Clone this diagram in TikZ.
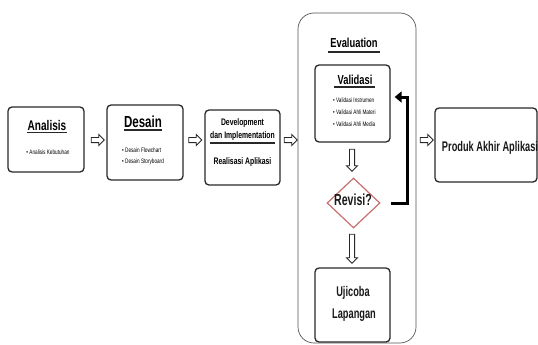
\documentclass[tikz,border=0pt]{standalone}
\usepackage{fontspec}
\usepackage{graphicx}
\setmainfont{Liberation Sans}
\usetikzlibrary{shapes.geometric,shapes.arrows,arrows.meta}
\definecolor{boxline}{RGB}{40,40,40}
\definecolor{revred}{RGB}{200,112,112}
\newcommand{\nrw}[1]{\scalebox{0.72}[1]{#1}}
\newcommand{\nrwb}[1]{\scalebox{0.66}[1]{#1}}
\tikzset{
  stagebox/.style={draw=boxline, line width=1.3pt, rounded corners=4pt, fill=white, inner sep=0pt},
  hollow/.style={single arrow, draw=boxline, line width=0.8pt, fill=white, inner sep=2.2pt,
    single arrow head extend=3pt, minimum height=13pt},
  uline/.style={boxline, line width=1.4pt},
  ttl/.style={inner sep=0pt, font=\fontsize{14}{16}\selectfont\bfseries},
  bul/.style={inner sep=0pt, anchor=west, font=\fontsize{6.5}{7}\selectfont},
  big/.style={inner sep=0pt, text=black!90, font=\fontsize{14}{16}\selectfont\bfseries},
  feedback/.style={line width=3pt, -{Triangle[length=7pt,width=11pt]}}
}
\begin{document}
\begin{tikzpicture}[x=1pt,y=-1pt]
  \useasboundingbox (0,0) rectangle (538,345);

  % stage boxes
  \node[stagebox, minimum width=76pt, minimum height=65pt] (analisis) at (46,139.5) {};
  \node[stagebox, minimum width=76pt, minimum height=75pt] (desain) at (145,142.5) {};
  \node[stagebox, minimum width=75pt, minimum height=75pt] (dev) at (242.5,147.5) {};
  \node[draw=boxline!80, line width=0.7pt, rounded corners=16pt, minimum width=118pt,
        minimum height=330pt] (eval) at (357,178) {};
  \node[stagebox, minimum width=75pt, minimum height=77pt] (validasi) at (352.5,103.5) {};
  \node[diamond, draw=revred, line width=1.2pt, fill=white, inner sep=0pt,
        minimum width=53pt, minimum height=50pt] (revisi) at (353.5,203) {};
  \node[stagebox, minimum width=75pt, minimum height=74pt] (ujicoba) at (352.5,305) {};
  \node[stagebox, minimum width=102pt, minimum height=74pt] (produk) at (486,145) {};

  % Analisis
  \node[ttl] (tanalisis) at (47,125) {\nrw{Analisis}};
  \draw[uline] ([yshift=-2pt]tanalisis.south west) -- ([yshift=-2pt]tanalisis.south east);
  \node[bul, anchor=center] at (48,152) {\nrw{• Analisis Kebutuhan}};

  % Desain
  \node[ttl, font=\fontsize{16}{18}\selectfont\bfseries] (tdesain) at (143,122) {\nrw{Desain}};
  \draw[uline] ([yshift=-2pt]tdesain.south west) -- ([yshift=-2pt]tdesain.south east);
  \node[bul] at (122,150) {\nrw{• Desain Flowchart}};
  \node[bul] at (122,162) {\nrw{• Desain Storyboard}};

  % Development
  \node[ttl, font=\fontsize{9.5}{10}\selectfont\bfseries] at (242.5,123) {\nrw{Development}};
  \node[ttl, font=\fontsize{9.5}{10}\selectfont\bfseries] (tdev) at (242.5,136) {\nrw{dan Implementation}};
  \draw[uline] ([yshift=-2.5pt]tdev.south west) -- ([yshift=-2.5pt]tdev.south east);
  \node[ttl, font=\fontsize{9.5}{10}\selectfont\bfseries] at (242.5,162) {\nrw{Realisasi Aplikasi}};

  % Evaluation
  \node[ttl, font=\fontsize{13}{15}\selectfont\bfseries] (teval) at (354,43) {\nrw{Evaluation}};
  \draw[uline] ([xshift=-2pt,yshift=-4pt]teval.south west) -- ([xshift=2pt,yshift=-4pt]teval.south east);
  \node[ttl, font=\fontsize{13}{15}\selectfont\bfseries] (tvalidasi) at (355,80) {\nrw{Validasi}};
  \draw[uline] ([xshift=-3pt,yshift=-2pt]tvalidasi.south west) -- ([xshift=2pt,yshift=-2pt]tvalidasi.south east);
  \node[bul] at (333,100) {\nrw{• Validasi Instrumen}};
  \node[bul] at (333,112) {\nrw{• Validasi Ahli Materi}};
  \node[bul] at (333,124) {\nrw{• Validasi Ahli Media}};
  \node[big, font=\fontsize{16}{18}\selectfont\bfseries] at (353,200) {\nrwb{Revisi?}};
  \node[big] at (353,293) {\nrwb{Ujicoba}};
  \node[big] at (354,315) {\nrwb{Lapangan}};

  % Produk
  \node[big] at (490,148) {\nrwb{Produk Akhir Aplikasi}};

  % hollow arrows
  \node[hollow] (a1) at (96.5,140) {};
  \node[hollow] (a2) at (194,140) {};
  \node[hollow] (a3) at (289.5,140) {};
  \node[hollow] (a4) at (425.5,140) {};
  \node[hollow, shape border rotate=270, minimum height=22pt] (d1) at (352,159) {};
  \node[hollow, shape border rotate=270, minimum height=29pt] (d2) at (352,247.5) {};

  % back to Validasi
  \coordinate (fb) at (407,97);
  \draw[feedback] ([xshift=10pt]revisi.east) -| (fb) -- ([xshift=4pt]validasi.east |- fb);
\end{tikzpicture}
\end{document}
